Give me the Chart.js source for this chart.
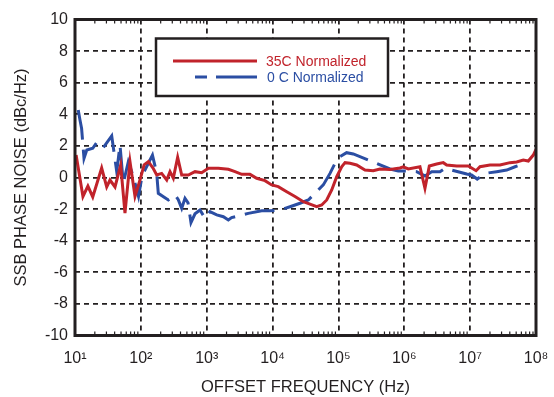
<!DOCTYPE html>
<html>
<head>
<meta charset="utf-8">
<script src="https://cdn.jsdelivr.net/npm/chart.js@4"></script>
<style>
  html, body { margin: 0; padding: 0; background: #fff; }
  #wrap { width: 554px; height: 397px; position: relative; }
</style>
</head>
<body>
<div id="wrap"><canvas id="noise"></canvas></div>
<script>
// 35C normalized (red)
const redFreq = [10.4, 13.2, 15.7, 18.6, 25.4, 30.3, 34.0, 40.5, 49.4, 57.4, 68.4, 81.5, 97, 112, 130, 153, 174, 207, 247, 277, 311, 362, 417, 525, 664, 839, 1060, 1500, 2130, 2690, 3400, 4540, 5740, 7670, 9700, 12200, 16400, 21900, 29300, 37000, 46800, 55700, 66400, 79100, 94200, 112000, 126000, 150000, 189000, 253000, 338000, 427000, 607000, 861000, 966000, 1150000, 1730000, 2060000, 2400000, 3100000, 3910000, 4400000, 6250000, 9380000, 12300000, 14100000, 20000000, 28400000, 40300000, 50900000, 64100000, 76400000, 91000000, 100000000];
const redVals = [1.42, -1.2, -0.54, -1.23, 0.6, -0.6, -0.16, -0.6, 0.79, -2.25, 1.0, -1.2, -0.16, 0.8, 1.0, 0.6, 0.16, 0.26, -0.16, 0.37, -0.05, 1.28, 0.16, 0.16, 0.37, 0.3, 0.58, 0.58, 0.52, 0.37, 0.2, 0.2, -0.05, -0.2, -0.47, -0.58, -0.9, -1.2, -1.53, -1.68, -1.85, -1.74, -1.42, -0.79, 0.05, 0.68, 0.94, 0.9, 0.79, 0.47, 0.43, 0.54, 0.5, 0.6, 0.68, 0.54, 0.68, -0.69, 0.73, 0.85, 0.94, 0.79, 0.73, 0.73, 0.43, 0.68, 0.79, 0.79, 0.94, 0.98, 1.1, 1.04, 1.42, 1.78];

// 0 C normalized (blue)
const blueFreq = [11.2, 11.9, 12.6, 13.7, 15.1, 18.6, 21.3, 26.4, 36.1, 43.0, 48.2, 54.1, 64.5, 76.8, 92.1, 103, 112, 150, 174, 184, 261, 330, 370, 417, 468, 520, 577, 664, 791, 942, 1120, 1420, 1790, 2130, 2390, 4280, 6840, 9140, 13000, 18400, 26100, 34900, 58900, 74500, 88700, 106000, 133000, 168000, 302000, 607000, 811000, 1150000, 1540000, 2060000, 2610000, 3480000, 4150000, 8870000, 10500000, 12800000, 16800000, 25300000, 35900000, 48000000, 64100000];
const blueVals = [4.27, 3.64, 3.1, 1.21, 1.74, 1.85, 2.2, 1.85, 2.63, 0.37, 2.06, -0.37, 1.0, 0.05, -1.2, -0.03, 0.37, 1.42, 0.26, -1.0, -1.42, -1.1, -1.4, -1.95, -1.32, -1.6, -2.85, -2.3, -2.06, -2.58, -2.16, -2.37, -2.48, -2.69, -2.54, -2.27, -2.1, -2.1, -2.06, -1.85, -1.63, -1.42, -0.47, 0.26, 0.9, 1.32, 1.57, 1.49, 1.06, 0.54, 0.41, 0.41, 0.37, 0.1, 0.37, 0.37, 0.58, 0.22, 0.16, -0.1, 0.26, 0.37, 0.47, 0.68, 0.85];

const xTicks = [10, 100, 1000, 10000, 100000, 1000000, 10000000, 100000000];
const xTickLabels = ['10\u00B9', '10\u00B2', '10\u00B3', '10\u2074', '10\u2075', '10\u2076', '10\u2077', '10\u2078'];
const minorMults = [2, 3, 4, 5, 6, 7, 8, 9];
const seriesNames = ['35C Normalized', '0 C Normalized'];

const RED = '#c1232b';
const BLUE = '#2b4ea3';
const INK = '#231f20';
const FONT = "'Liberation Sans', Arial, Helvetica, sans-serif";

const frame = {
    id: 'frame',
    afterDraw(chart) {
        const ctx = chart.ctx;
        const a = chart.chartArea;
        const x = chart.scales.x;
        ctx.save();
        // minor ticks, top and bottom
        ctx.strokeStyle = INK;
        ctx.lineWidth = 1.2;
        ctx.beginPath();
        xTicks.slice(0, -1).forEach(d => {
            minorMults.forEach(m => {
                const px = x.getPixelForValue(d * m);
                ctx.moveTo(px, a.bottom); ctx.lineTo(px, a.bottom - 4);
                ctx.moveTo(px, a.top); ctx.lineTo(px, a.top + 4);
            });
        });
        ctx.stroke();
        ctx.lineWidth = 3;
        ctx.strokeRect(a.left, a.top, a.right - a.left, a.bottom - a.top);

        // legend box
        const bx = 156, by = 38.5, bw = 232, bh = 57.5;
        ctx.fillStyle = '#fff';
        ctx.fillRect(bx, by, bw, bh);
        ctx.lineWidth = 2.5;
        ctx.strokeRect(bx, by, bw, bh);
        ctx.lineWidth = 3;
        ctx.strokeStyle = RED;
        ctx.beginPath(); ctx.moveTo(173, 61); ctx.lineTo(257, 61); ctx.stroke();
        ctx.strokeStyle = BLUE;
        ctx.beginPath(); ctx.moveTo(195, 77); ctx.lineTo(207, 77); ctx.moveTo(216, 77); ctx.lineTo(257, 77); ctx.stroke();
        ctx.font = '14px ' + FONT;
        ctx.textBaseline = 'middle';
        ctx.fillStyle = RED;
        ctx.fillText(seriesNames[0], 266, 62);
        ctx.fillStyle = BLUE;
        ctx.fillText(seriesNames[1], 267, 78);
        ctx.restore();
    }
};

new Chart(document.getElementById('noise'), {
    type: 'line',
    data: {
        datasets: [{
            label: seriesNames[0],
            data: redFreq.map((f, i) => ({ x: f, y: redVals[i] })),
            borderColor: RED,
            borderWidth: 3,
            pointRadius: 0,
            tension: 0
        }, {
            label: seriesNames[1],
            data: blueFreq.map((f, i) => ({ x: f, y: blueVals[i] })),
            borderColor: BLUE,
            borderWidth: 3,
            borderDash: [30, 10],
            pointRadius: 0,
            tension: 0
        }]
    },
    options: {
        responsive: true,
        maintainAspectRatio: false,
        animation: false,
        devicePixelRatio: 1,
        layout: {
            padding: { top: 19.5, right: 18, left: 0, bottom: 0 }
        },
        plugins: {
            legend: { display: false },
            tooltip: { enabled: false }
        },
        scales: {
            x: {
                type: 'logarithmic',
                min: 10,
                max: 100000000,
                afterBuildTicks: (scale) => {
                    scale.ticks = xTicks.map(v => ({ value: v }));
                },
                afterFit: (scale) => {
                    scale.height = 61.5;
                    scale.paddingLeft = 0;
                    scale.paddingRight = 0;
                },
                ticks: {
                    autoSkip: false,
                    maxRotation: 0,
                    padding: 13,
                    color: INK,
                    font: { family: FONT, size: 16 },
                    callback: (value, index) => xTickLabels[index]
                },
                grid: {
                    drawTicks: false,
                    lineWidth: 1.8,
                    color: (ctx) => (ctx.tick && (ctx.tick.value === 10 || ctx.tick.value === 100000000)) ? 'rgba(0,0,0,0)' : INK
                },
                border: { display: false, dash: [5, 4] },
                title: {
                    display: true,
                    text: 'OFFSET FREQUENCY (Hz)',
                    color: INK,
                    font: { family: FONT, size: 16.5 },
                    padding: { top: 0, bottom: 0 }
                }
            },
            y: {
                min: -10,
                max: 10,
                afterFit: (scale) => {
                    scale.width = 75;
                    scale.paddingTop = 0;
                    scale.paddingBottom = 0;
                },
                ticks: {
                    stepSize: 2,
                    padding: 7,
                    color: INK,
                    font: { family: FONT, size: 16 }
                },
                grid: {
                    drawTicks: false,
                    lineWidth: 1.8,
                    color: (ctx) => (ctx.tick && Math.abs(ctx.tick.value) === 10) ? 'rgba(0,0,0,0)' : INK
                },
                border: { display: false, dash: [5, 4] },
                title: {
                    display: true,
                    text: 'SSB PHASE NOISE (dBc/Hz)',
                    color: INK,
                    font: { family: FONT, size: 16.5 },
                    padding: { top: 12, bottom: 0 }
                }
            }
        }
    },
    plugins: [frame]
});
</script>
</body>
</html>
